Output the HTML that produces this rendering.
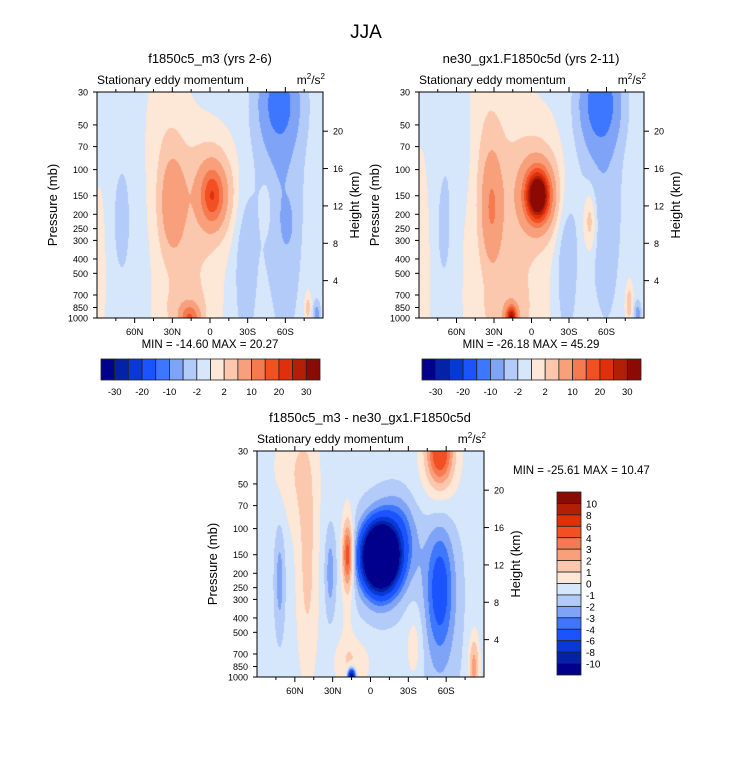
<!DOCTYPE html>
<html><head><meta charset="utf-8"><style>
body{margin:0;background:#fff;width:733px;height:772px;position:relative;overflow:hidden;font-family:"Liberation Sans",sans-serif}
canvas{position:absolute}
svg{position:absolute;left:0;top:0}
</style></head><body>
<canvas id="c1" style="left:97px;top:92px" width="226" height="226"></canvas>
<canvas id="c2" style="left:419px;top:92px" width="225" height="226"></canvas>
<canvas id="c3" style="left:257px;top:451px" width="227" height="226"></canvas>
<svg id="ov" width="733" height="772" font-family="Liberation Sans, sans-serif"></svg>
<script>
// ---- data: blobs (lat, pressure mb, amplitude, lat width deg, log-p width) ----
const p1Lat=[35,22,12,0,88,30,-2,-2,70,-55,-55,-60,-28,-62,-45,16,22,-78,-85];
const p1Pres=[50,300,700,100,500,170,150,150,220,35,120,350,450,230,180,1000,900,850,950];
const p1Amp=[1.5,1.6,1.5,1.2,1.8,8,14,5.5,-2.4,-11,-2.6,-2,-3,-2.5,2.3,13,2,4,-6];
const p1WLat=[12,18,16,14,4,7,6,13,5,11,13,8,6,3,3,5,12,2,2];
const p1WP=[0.25,0.4,0.3,0.15,0.3,0.15,0.08,0.14,0.18,0.14,0.3,0.35,0.25,0.06,0.08,0.04,0.08,0.05,0.04];
const p1Base=-0.8;
const p2Lat=[35,22,12,0,88,32,-5,-5,70,-55,-55,-60,-28,-47,16,22,-78,-85,60];
const p2Pres=[50,300,700,100,500,180,150,150,260,35,120,350,450,220,1000,900,800,950,60];
const p2Amp=[1.5,1.6,1.5,1.5,1.8,9,38,8,-2.4,-13,-2.6,-2,-3.5,5,28,2,4,-7,-1.4];
const p2WLat=[12,18,16,14,4,6,6,12,5,11,13,8,6,4,3,12,2,2,10];
const p2WP=[0.25,0.4,0.3,0.15,0.3,0.17,0.07,0.13,0.2,0.14,0.3,0.35,0.25,0.1,0.035,0.08,0.06,0.04,0.2];
const p2Base=-0.3;
const p3Lat=[-8,-8,-22,18,18,-55,-55,-55,-55,72,32,50,15,15,-35,60,-82];
const p3Pres=[155,160,110,150,200,250,260,30,40,220,200,180,1000,800,600,40,850];
const p3Amp=[-30,-4.5,-2.5,5,1,-2.8,-1.8,5,1.8,-2,-2,1.8,-12,1.4,1.3,1.3,3];
const p3WLat=[8,14,10,3,4,7,12,7,12,3,3,6,2,10,5,12,3];
const p3WP=[0.08,0.15,0.12,0.1,0.25,0.18,0.4,0.1,0.2,0.18,0.14,0.35,0.025,0.08,0.12,0.18,0.1];
const p3Base=-0.5;
const levAbs=[-30,-25,-20,-15,-10,-5,-2,0,2,5,10,15,20,25,30];
const levDiff=[-10,-8,-6,-4,-3,-2,-1,0,1,2,3,4,6,8,10];
const cols=['#00008c','#0422a8','#0839d6','#1a53ff','#3d76ff','#7fa4f7','#b3cbf8','#d6e6fb','#fde7d6','#fbc8ae','#f8a07b','#f67a4f','#f24f22','#e0300b','#b31f06','#8b0a04'];
const latTicks=[60,30,0,-30,-60];
const latLabels=['60N','30N','0','30S','60S'];
const presTicks=[30,50,70,100,150,200,250,300,400,500,700,850,1000];
const kmTicks=[4,8,12,16,20];

const NS='http://www.w3.org/2000/svg';
const ov=document.getElementById('ov');
function sFrac(p){return Math.log(p/30)/Math.log(1000/30);}
function mk(tag,attrs,text){const e=document.createElementNS(NS,tag);for(const k in attrs)e.setAttribute(k,attrs[k]);if(text!==undefined)e.textContent=text;ov.appendChild(e);return e;}

function field(lat,s,B){let v=B.base;for(let i=0;i<B.lat.length;i++){const dl=(lat-B.lat[i])/B.wl[i];const ds=(s-sFrac(B.pres[i]))/B.wp[i];v+=B.amp[i]*Math.exp(-0.5*(dl*dl+ds*ds));}return v;}
function colorFor(v,lev){let i=0;while(i<lev.length&&v>=lev[i])i++;return cols[i];}

function drawPanel(id,x0,y0,w,h,B,lev){
  const cv=document.getElementById(id),ctx=cv.getContext('2d');
  for(let py=0;py<h;py++)for(let px=0;px<w;px++){
    const lat=90-180*(px+0.5)/w, s=(py+0.5)/h;
    ctx.fillStyle=colorFor(field(lat,s,B),lev);ctx.fillRect(px,py,1,1);}
  const X=lat=>x0+(90-lat)/180*w, Y=p=>y0+sFrac(p)*h;
  mk('rect',{x:x0,y:y0,width:w,height:h,fill:'none',stroke:'#000','stroke-width':1});
  for(let l=-75;l<=75;l+=15){
    const t=mk('line',{x1:X(l),x2:X(l),y1:y0+h,y2:y0+h+(l%30===0?5:3),stroke:'#000'});
    
    mk('line',{x1:X(l),x2:X(l),y1:y0,y2:y0-(l%30===0?5:3),stroke:'#000'});}
  latTicks.forEach((l,i)=>{const t=mk('text',{x:X(l),y:y0+h+17,'font-size':9.5,'text-anchor':'middle'},latLabels[i]);
    });
  presTicks.forEach(p=>{mk('line',{x1:x0-4,x2:x0,y1:Y(p),y2:Y(p),stroke:'#000'});
    const t=mk('text',{x:x0-9,y:Y(p)+3.5,'font-size':9,'text-anchor':'end'},p);
    });
  kmTicks.forEach(z=>{const p=1000*Math.exp(-z/6.9);mk('line',{x1:x0+w,x2:x0+w+5,y1:Y(p),y2:Y(p),stroke:'#000'});
    const t=mk('text',{x:x0+w+10,y:Y(p)+3.5,'font-size':9},z);
    });
  const a=mk('text',{x:x0-40,y:y0+h/2,'font-size':13,'text-anchor':'middle',transform:`rotate(-90 ${x0-40} ${y0+h/2})`},'Pressure (mb)');
  
  const b=mk('text',{x:x0+w+36,y:y0+h/2,'font-size':13,'text-anchor':'middle',transform:`rotate(-90 ${x0+w+36} ${y0+h/2})`},'Height (km)');
  
  const c=mk('text',{x:x0,y:y0-8,'font-size':12},'Stationary eddy momentum');
  
  const d=mk('text',{x:x0+w+2,y:y0-8,'font-size':12,'text-anchor':'end'});
  
  d.innerHTML='m<tspan dy="-5" font-size="8">2</tspan><tspan dy="5">/s</tspan><tspan dy="-5" font-size="8">2</tspan>';
}
drawPanel('c1',97,92,226,226,{lat:p1Lat,pres:p1Pres,amp:p1Amp,wl:p1WLat,wp:p1WP,base:p1Base},levAbs);
drawPanel('c2',419,92,225,226,{lat:p2Lat,pres:p2Pres,amp:p2Amp,wl:p2WLat,wp:p2WP,base:p2Base},levAbs);
drawPanel('c3',257,451,227,226,{lat:p3Lat,pres:p3Pres,amp:p3Amp,wl:p3WLat,wp:p3WP,base:p3Base},levDiff);

let t;
t=mk('text',{x:366,y:38,'font-size':19,'text-anchor':'middle'},'JJA');
t=mk('text',{x:210,y:63,'font-size':13,'text-anchor':'middle'},'f1850c5_m3 (yrs 2-6)');
t=mk('text',{x:531,y:63,'font-size':13,'text-anchor':'middle'},'ne30_gx1.F1850c5d (yrs 2-11)');
t=mk('text',{x:370,y:422,'font-size':13,'text-anchor':'middle'},'f1850c5_m3 - ne30_gx1.F1850c5d');
t=mk('text',{x:210,y:348,'font-size':11.5,'text-anchor':'middle','xml:space':'preserve'},'MIN = -14.60  MAX =  20.27');
t=mk('text',{x:531,y:348,'font-size':11.5,'text-anchor':'middle','xml:space':'preserve'},'MIN = -26.18  MAX =  45.29');
t=mk('text',{x:513,y:474,'font-size':11.5,'xml:space':'preserve'},'MIN = -25.61  MAX =  10.47');

function hbar(x0,y0,w,h,labels){
  const bw=w/16;
  cols.forEach((c,i)=>{const r=mk('rect',{x:x0+i*bw,y:y0,width:bw,height:h,fill:c,stroke:'#222','stroke-width':0.8});
    });
  labels.forEach((l,i)=>{const tt=mk('text',{x:x0+(2*i+1)*bw,y:y0+h+15,'font-size':9.5,'text-anchor':'middle'},l);
    });
}
hbar(101,359,219,21,['-30','-20','-10','-2','2','10','20','30']);
hbar(422,359,219,21,['-30','-20','-10','-2','2','10','20','30']);
(function(){const x0=557,y0=492,w=24,h=183,bh=h/16;
  cols.slice().reverse().forEach((c,i)=>{const r=mk('rect',{x:x0,y:y0+i*bh,width:w,height:bh,fill:c,stroke:'#222','stroke-width':0.8});
    });
  levDiff.slice().reverse().forEach((l,i)=>{const tt=mk('text',{x:x0+w+5,y:y0+(i+1)*bh+4,'font-size':10},l);
    });})();
</script>
</body></html>
